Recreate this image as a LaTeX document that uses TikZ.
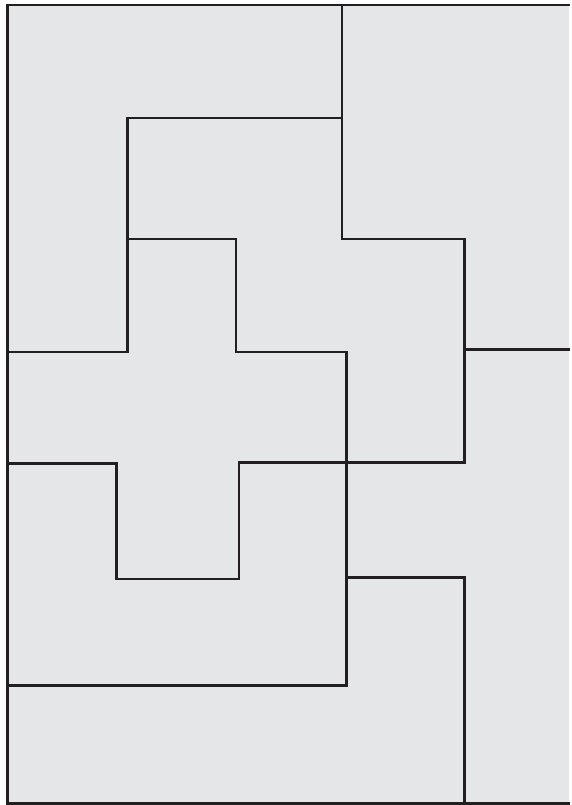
\documentclass[tikz,border=0pt]{standalone}
\begin{document}
\begin{tikzpicture}[x=1pt,y=-1pt,
  edge/.style={draw=linec,line width=2.6pt,line cap=rect,line join=miter}]
\definecolor{fillc}{HTML}{E5E6E8}
\definecolor{linec}{HTML}{231F20}
\useasboundingbox (0,0) rectangle (571,805);
\fill[white] (0,0) rectangle (571,805);
\fill[fillc] (7.5,5) rectangle (569,803.5);
% outer border (right side cropped)
\draw[edge] (569,5) -- (7.5,5) -- (7.5,803.5) -- (569,803.5);
% top-left piece boundary
\draw[edge] (342,5) -- (342,239) -- (464.7,239) -- (464.7,462.3) -- (346.3,462.3);
\draw[edge] (7.5,352) -- (127.5,352) -- (127.5,118) -- (342,118);
% cross
\draw[edge] (127.5,239) -- (236,239) -- (236,352) -- (346.3,352) -- (346.3,685.7) -- (7.5,685.7);
\draw[edge] (464.7,349.7) -- (569,349.7);
% U shape
\draw[edge] (7.5,463.3) -- (116.3,463.3) -- (116.3,579) -- (239,579) -- (239,462.5) -- (346.3,462.5);
% bottom right
\draw[edge] (346.3,577.3) -- (464.7,577.3) -- (464.7,803.5);
\end{tikzpicture}
\end{document}
